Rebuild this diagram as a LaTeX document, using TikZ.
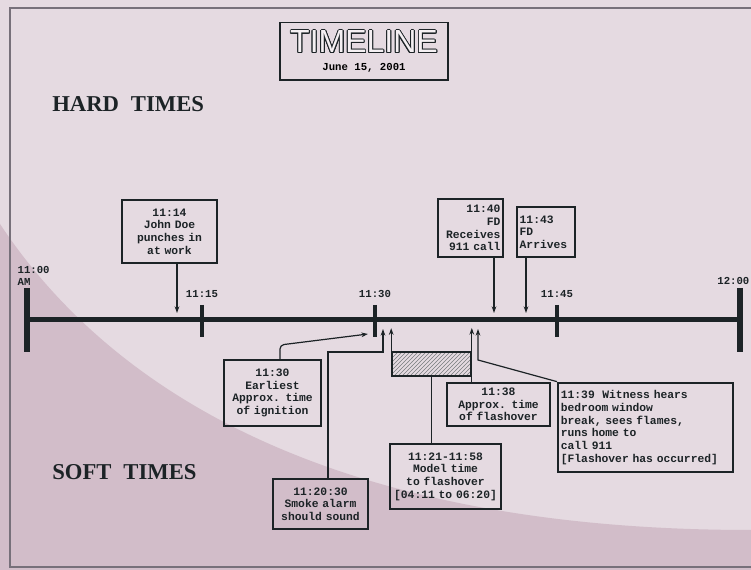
\documentclass[tikz,border=0pt]{standalone}
\usepackage{fontspec}
\setmainfont{Liberation Serif}
\setsansfont{Liberation Sans}
\setmonofont{Liberation Mono}
\usepackage{contour}
\usetikzlibrary{arrows.meta,positioning,patterns}
\definecolor{paper}{HTML}{E5DAE1}
\definecolor{mauve}{HTML}{D2BDC9}
\definecolor{rim}{HTML}{77707A}
\definecolor{ink}{HTML}{1C2326}
\contourlength{0.7pt}
\tikzset{
  evt/.style={draw=ink,line width=1.8pt,align=center,inner sep=2pt,text=ink,
    font=\ttfamily\bfseries\fontsize{8.5}{9.5}\selectfont},
  ptr/.style={-{Stealth[length=5pt,width=3.5pt]},line width=0.9pt,draw=ink},
  lnk/.style={line width=0.9pt,draw=ink},
  tick/.style={line width=3pt,draw=ink},
  stamp/.style={font=\ttfamily\bfseries\fontsize{8}{9}\selectfont,text=ink,inner sep=1pt},
  era/.style={font=\bfseries\fontsize{17}{19}\selectfont,text=ink,anchor=west,inner sep=0pt}
}
\begin{document}
\begin{tikzpicture}[x=0.75pt,y=-0.75pt]
 \clip (0,0) rectangle (751,570);
 \fill[paper] (0,0) rectangle (751,570);
 \fill[mauve] (0,224) .. controls (110,390) and (330,530) .. (751,530) -- (751,570) -- (0,570) -- cycle;
 \draw[rim,line width=1.5pt] (10,8) rectangle (770,567);

 \node[draw=ink,line width=1pt,minimum width=126pt,minimum height=43pt,align=center,inner sep=2pt] (ttl) at (364,51.5)
   {{\sffamily\fontsize{24}{24}\selectfont\contour{ink}{\textcolor{paper!40}{TIMELINE}}}\\[1pt]{\ttfamily\bfseries\fontsize{8}{9}\selectfont June 15, 2001}};
 \node[era] (hard) at (52,104) {HARD\hspace{9pt}TIMES};
 \node[era] (soft) at (52,472) {SOFT\hspace{9pt}TIMES};

 \draw[line width=3.75pt,draw=ink] (27,320) -- (740,320);
 \draw[line width=4.5pt,draw=ink] (27,288) -- (27,352);
 \draw[line width=4.5pt,draw=ink] (740,288) -- (740,352);
 \foreach \x/\t in {202/11:15,375/11:30,557/11:45}{
   \draw[tick] (\x,305) -- (\x,337);
   \node[stamp] (lab\x) at (\x,294) {\t};
 }
 \node[stamp,align=left,anchor=south west] (t0) at (16,287) {11:00\\AM};
 \node[stamp,anchor=south east] (t12) at (751,286) {12:00};

 \node[evt,text width=67pt,minimum height=47pt] (doe) at (169.5,231.5) {11:14\\John Doe\\punches in\\at work};
 \node[evt,text width=45pt,minimum height=43.5pt,align=right] (rcv) at (470.5,228) {11:40\\FD\\Receives\\911 call};
 \node[evt,text width=39.5pt,minimum height=37.5pt,align=left] (fda) at (546,232) {11:43\\FD\\Arrives};
 \node[evt,text width=69pt,minimum height=49.5pt] (ign) at (272.5,393) {11:30\\Earliest\\Approx. time\\of ignition};
 \node[evt,text width=73pt,minimum height=32pt] (fo) at (498.5,404.5) {11:38\\Approx. time\\of flashover};
 \node[evt,text width=127pt,minimum height=67pt,align=left] (wit) at (645.5,427.5)
   {11:39~~Witness hears\\bedroom window\\break, sees flames,\\runs home to\\call 911\\{[Flashover has occurred]}};
 \node[evt,text width=79pt,minimum height=49pt] (mdl) at (445.5,476.5) {11:21-11:58\\Model time\\to flashover\\{[04:11 to 06:20]}};
 \node[evt,text width=67pt,minimum height=37.5pt] (alm) at (320.5,504) {11:20:30\\Smoke alarm\\should sound};
 \node[draw=ink,line width=1.2pt,pattern=north east lines,pattern color=ink!60,minimum width=59.25pt,minimum height=18pt,inner sep=0pt] (hz) at (431.5,364) {};

 \coordinate (p14) at (177,313);
 \coordinate (p40) at (494,313);
 \coordinate (p43) at (526,313);
 \coordinate (p30) at (368,334);
 \coordinate (k30) at (280,345);
 \coordinate (p20) at (383,329);
 \coordinate (k20) at (383,352);
 \coordinate (p39) at (478,329);
 \coordinate (k39) at (478,360);
 \draw[ptr] (doe.south -| p14) -- (p14);
 \draw[ptr] (rcv.south -| p40) -- (p40);
 \draw[ptr] (fda.south -| p43) -- (p43);
 \draw[ptr,rounded corners=3pt] (ign.north -| k30) -- (k30) -- (p30);
 \draw[ptr] ([xshift=5.6pt]alm.north) |- (k20) -- (p20);
 \draw[ptr] (hz.north west) -- ++(0,-23);
 \draw[ptr] (fo.north -| hz.east) -- ++(0,-54);
 \draw[lnk] (mdl.north -| hz.south) -- (hz.south);
 \draw[ptr] (wit.north west) -- (k39) -- (p39);
\end{tikzpicture}
\end{document}
